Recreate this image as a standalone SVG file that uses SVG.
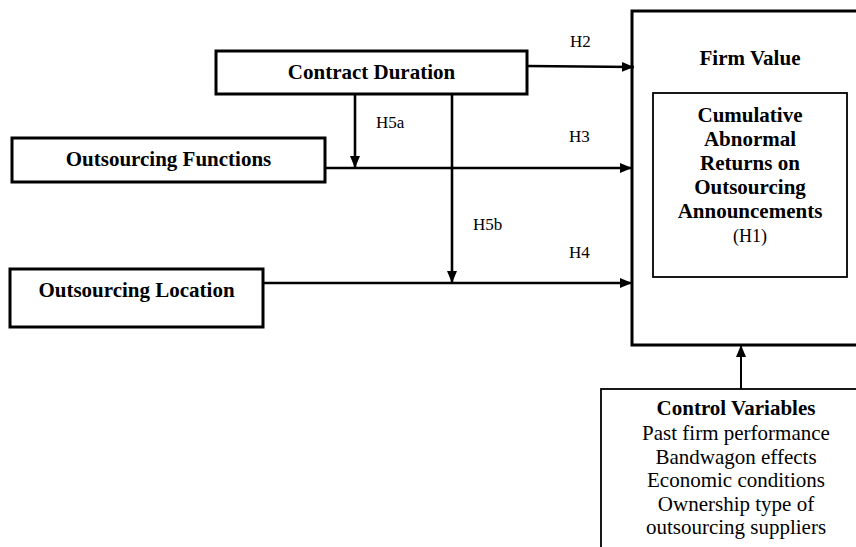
<svg xmlns="http://www.w3.org/2000/svg" width="856" height="547" viewBox="0 0 856 547">
<style>
.box{fill:#fff;stroke:#000;stroke-width:3}
.thin{fill:#fff;stroke:#000;stroke-width:1.8}
text{font-family:"Liberation Serif","Times New Roman","DejaVu Serif",serif;fill:#000}
.b{font-weight:bold;font-size:21px;text-anchor:middle}
.r{font-size:21px;text-anchor:middle}
.lab{font-size:17px}
.c{fill:none;stroke:#000;stroke-width:2.6}
</style>
<defs>
<marker id="ah" markerUnits="userSpaceOnUse" markerWidth="14" markerHeight="12" refX="12" refY="6" orient="auto">
<path d="M0,1 L12,6 L0,11 Z" fill="#000"/>
</marker>
</defs>
<g id="firm-value">
<rect class="box" x="632" y="11" width="230" height="334"/>
<text class="b" x="750" y="65">Firm Value</text>
</g>
<g id="car">
<rect class="thin" x="653" y="93" width="194" height="184"/>
<text class="b" x="750" y="122">Cumulative</text>
<text class="b" x="750" y="146">Abnormal</text>
<text class="b" x="750" y="170">Returns on</text>
<text class="b" x="750" y="194">Outsourcing</text>
<text class="b" x="750" y="218">Announcements</text>
<text class="r" x="750" y="242" style="font-size:18px">(H1)</text>
</g>
<g id="contract-duration">
<rect class="box" x="216" y="51" width="311" height="43"/>
<text class="b" x="371.5" y="79">Contract Duration</text>
</g>
<g id="outsourcing-functions">
<rect class="box" x="12" y="138" width="313" height="44"/>
<text class="b" x="168.5" y="166">Outsourcing Functions</text>
</g>
<g id="outsourcing-location">
<rect class="box" x="10" y="269" width="253" height="58"/>
<text class="b" x="136.5" y="297">Outsourcing Location</text>
</g>
<g id="control-variables">
<rect class="thin" x="601" y="389" width="262" height="170"/>
<text class="b" x="736" y="415">Control Variables</text>
<text class="r" x="736" y="440">Past firm performance</text>
<text class="r" x="736" y="464">Bandwagon effects</text>
<text class="r" x="736" y="487">Economic conditions</text>
<text class="r" x="736" y="511">Ownership type of</text>
<text class="r" x="736" y="534">outsourcing suppliers</text>
</g>
<g id="connectors">
<line class="c" x1="527" y1="66" x2="634" y2="67" marker-end="url(#ah)"/>
<line class="c" x1="325" y1="168" x2="632" y2="168" marker-end="url(#ah)"/>
<line class="c" x1="263" y1="283" x2="632" y2="283" marker-end="url(#ah)"/>
<line class="c" x1="355" y1="94" x2="355" y2="168" marker-end="url(#ah)"/>
<line class="c" x1="452" y1="94" x2="452" y2="283" marker-end="url(#ah)"/>
<line class="c" x1="741" y1="389" x2="741" y2="345" style="stroke-width:2" marker-end="url(#ah)"/>
<text class="lab" x="570" y="47">H2</text>
<text class="lab" x="376" y="128">H5a</text>
<text class="lab" x="569" y="142">H3</text>
<text class="lab" x="473" y="230">H5b</text>
<text class="lab" x="569" y="258">H4</text>
</g>
</svg>
